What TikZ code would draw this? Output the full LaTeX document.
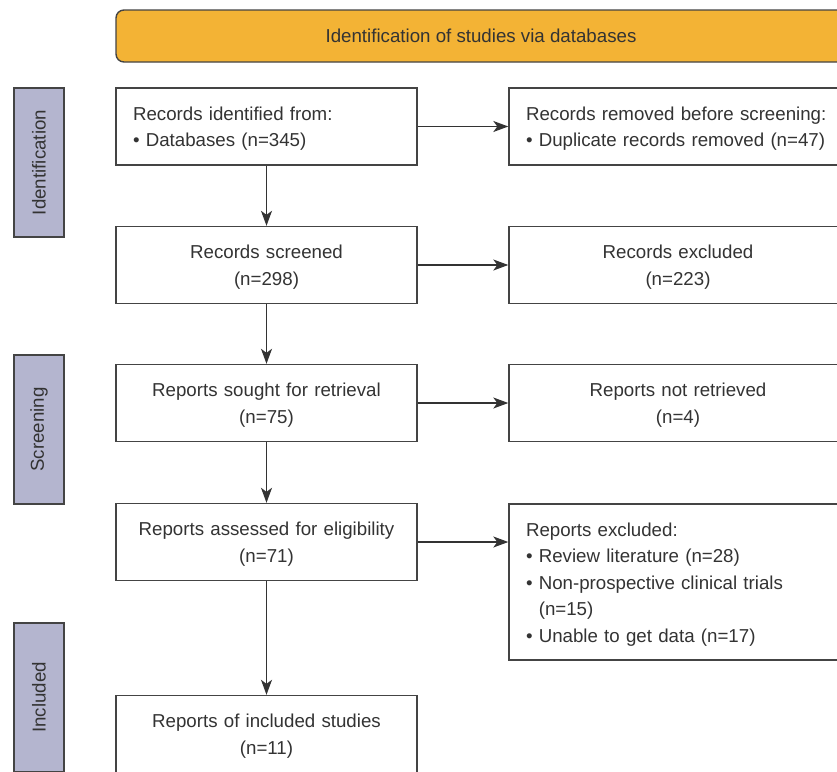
\documentclass[tikz,border=0pt]{standalone}
\usepackage{fontspec}
\setmainfont{Liberation Sans}
\usetikzlibrary{arrows.meta}
\definecolor{bannerCol}{HTML}{F3B335}
\definecolor{stageCol}{HTML}{B4B5CF}
\definecolor{borderCol}{HTML}{444444}
\definecolor{textCol}{HTML}{333333}
\definecolor{arrowCol}{HTML}{333333}
\tikzstyle{box}=[draw=borderCol, line width=1.4pt, fill=white, text=textCol, font=\fontsize{18.7}{26.5}\selectfont, inner xsep=17pt, inner ysep=0pt, minimum height=77pt, execute at begin node={\rule{0pt}{18pt}}]
\tikzstyle{leftbox}=[box, text width=267pt]
\tikzstyle{rightbox}=[box, text width=304pt]
\tikzstyle{stage}=[draw=borderCol, line width=1.4pt, fill=stageCol, text=textCol, font=\fontsize{18.7}{22}\selectfont, rotate=90, minimum width=149pt, minimum height=50pt, inner sep=0pt]
\tikzstyle{connection}=[line width=1.3pt, draw=arrowCol, -{Stealth[length=15pt,width=11pt,inset=4pt]}]

\begin{document}
\begin{tikzpicture}[x=1pt,y=-1pt]

    \useasboundingbox (0,0) rectangle (837,771);

    % ==== TITLE ====
    \node[draw=borderCol, line width=1.4pt, fill=bannerCol, rounded corners=8pt, text=textCol,
          font=\fontsize{18.7}{22}\selectfont, minimum width=730pt, minimum height=52pt, inner sep=0pt]
          (banner) at (481,36) {Identification of studies via databases};

    % === STAGES ===
    \node[stage] (identification) at (39,162.5) {Identification};
    \node[stage] (screening) at (39,429.5) {Screening};
    \node[stage] (included) at (39,697.5) {Included};

    % === MAIN FLOW ===
    \node[leftbox, align=left] (identified) at (266.5,126.5) {Records identified from:\\\textbullet\ Databases (n=345)};
    \node[leftbox, align=center] (screened) at (266.5,265) {Records screened\\(n=298)};
    \node[leftbox, align=center] (sought) at (266.5,403) {Reports sought for retrieval\\(n=75)};
    \node[leftbox, align=center] (assessed) at (266.5,542) {Reports assessed for eligibility\\(n=71)};
    \node[leftbox, align=center] (includedstudies) at (266.5,734) {Reports of included studies\\(n=11)};

    % === SIDE BOXES ===
    \node[rightbox, align=left] (removed) at (678,126.5) {Records removed before screening:\\\textbullet\ Duplicate records removed (n=47)};
    \node[rightbox, align=center] (excluded) at (678,265) {Records excluded\\(n=223)};
    \node[rightbox, align=center] (notretrieved) at (678,403) {Reports not retrieved\\(n=4)};
    \node[rightbox, align=left, minimum height=156pt] (reportsexcluded) at (678,582)
        {Reports excluded:\\\textbullet\ Review literature (n=28)\\\textbullet\ Non-prospective clinical trials\\\phantom{\textbullet\ }(n=15)\\\textbullet\ Unable to get data (n=17)};

    % ==== CONNECTIONS ====
    \draw[connection] (identified) -- (screened);
    \draw[connection] (screened) -- (sought);
    \draw[connection] (sought) -- (assessed);
    \draw[connection] (assessed) -- (includedstudies);

    \draw[connection] (identified) -- (removed);
    \draw[connection] (screened) -- (excluded);
    \draw[connection] (sought) -- (notretrieved);
    \draw[connection] (assessed.east) -- (assessed.east -| reportsexcluded.west);

\end{tikzpicture}
\end{document}
